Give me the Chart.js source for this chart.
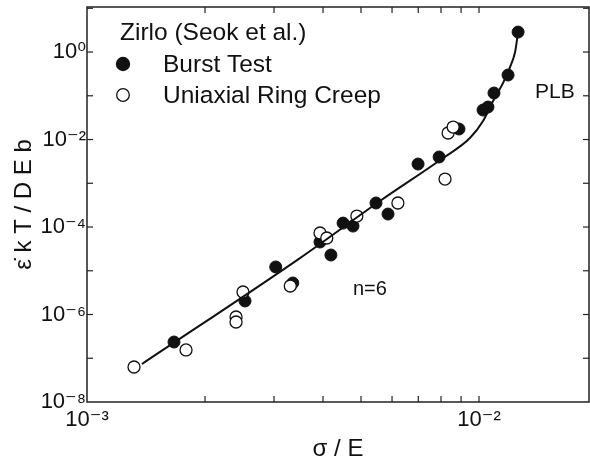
<!DOCTYPE html>
<html><head><meta charset="utf-8">
<script src="https://cdn.jsdelivr.net/npm/chart.js@4.4.0/dist/chart.umd.min.js"></script>
<style>html,body{margin:0;padding:0;background:#fff;}</style>
</head><body>
<canvas id="c" width="590" height="466"></canvas>
<script>
// ---- data ----
const burstX = [1.667e-3, 2.53e-3, 3.03e-3, 3.35e-3, 3.93e-3, 4.19e-3, 4.50e-3, 4.77e-3, 5.46e-3, 5.86e-3, 6.99e-3, 7.91e-3, 8.89e-3, 0.01024, 0.01054, 0.01092, 0.01186, 0.01258];
const burstY = [2.35e-7, 2.04e-6, 1.22e-5, 5.25e-6, 4.54e-5, 2.29e-5, 1.23e-4, 1.05e-4, 3.54e-4, 1.98e-4, 2.75e-3, 3.98e-3, 0.0174, 0.0472, 0.0553, 0.1156, 0.298, 2.86];
const ringX = [1.318e-3, 1.789e-3, 2.40e-3, 2.40e-3, 2.50e-3, 3.30e-3, 3.93e-3, 4.09e-3, 4.88e-3, 6.21e-3, 8.19e-3, 8.34e-3, 8.59e-3];
const ringY = [6.31e-8, 1.55e-7, 8.77e-7, 6.75e-7, 3.27e-6, 4.48e-6, 7.29e-5, 5.61e-5, 1.78e-4, 3.54e-4, 1.25e-3, 0.0141, 0.0193];
const fitX = [1.381e-3, 3.494e-3, 5.59e-3, 8.10e-3, 9.48e-3, 0.01024, 0.01086, 0.01151, 0.01200, 0.01236, 0.01258];
const fitY = [7.39e-8, 1.95e-5, 3.93e-4, 3.78e-3, 0.0108, 0.0265, 0.0759, 0.195, 0.454, 1.0, 2.86];
const xTickValues = [0.001, 0.002, 0.003, 0.004, 0.005, 0.006, 0.007, 0.008, 0.009, 0.01];
const xTickLabels = ['10⁻³', '', '', '', '', '', '', '', '', '10⁻²'];
const yTickValues = [1e-8, 1e-7, 1e-6, 1e-5, 1e-4, 1e-3, 1e-2, 1e-1, 1e0, 1e1];
const yTickLabels = ['10⁻⁸', '', '10⁻⁶', '', '10⁻⁴', '', '10⁻²', '', '10⁰', ''];
const seriesNames = ['Burst Test', 'Uniaxial Ring Creep'];
const legendTitle = 'Zirlo (Seok et al.)';
const noteTexts = ['PLB', 'n=6'];
const xTitle = 'σ / E';
const yTitle = 'ε̇ k T / D E b';

const FONT = "'Liberation Sans', Arial, 'DejaVu Sans', sans-serif";
const INK = '#111';
const pts = (xs, ys) => xs.map((v, i) => ({x: v, y: ys[i]}));

const frameTicks = {
  id: 'frameTicks',
  afterDraw(chart) {
    const {ctx, chartArea: a, scales: {x, y}} = chart;
    ctx.save();
    ctx.strokeStyle = '#222';
    ctx.lineWidth = 1.5;
    ctx.strokeRect(a.left, a.top, a.right - a.left, a.bottom - a.top);
    ctx.lineWidth = 1.2;
    const L = 6;
    const seg = (x1, y1, x2, y2) => { ctx.beginPath(); ctx.moveTo(x1, y1); ctx.lineTo(x2, y2); ctx.stroke(); };
    x.ticks.forEach(t => {
      const p = x.getPixelForValue(t.value);
      if (p < a.left + 1 || p > a.right - 1) return;
      seg(p, a.bottom, p, a.bottom - L);
      seg(p, a.top, p, a.top + L);
    });
    y.ticks.forEach(t => {
      const p = y.getPixelForValue(t.value);
      if (p < a.top + 1 || p > a.bottom - 1) return;
      seg(a.left, p, a.left + L, p);
      seg(a.right, p, a.right - L, p);
    });
    ctx.restore();
  }
};

const notes = {
  id: 'notes',
  afterDatasetsDraw(chart) {
    const {ctx} = chart;
    ctx.save();
    ctx.fillStyle = INK;
    ctx.textBaseline = 'alphabetic';
    ctx.textAlign = 'left';
    ctx.font = '24.5px ' + FONT;
    ctx.fillText(legendTitle, 120, 40);
    ctx.fillText(seriesNames[0], 163, 72);
    ctx.fillText(seriesNames[1], 163, 103);
    // legend markers
    ctx.beginPath(); ctx.arc(123, 64, 7.2, 0, Math.PI * 2); ctx.fillStyle = INK; ctx.fill();
    ctx.beginPath(); ctx.arc(123, 95, 6.3, 0, Math.PI * 2); ctx.fillStyle = '#fff'; ctx.fill();
    ctx.lineWidth = 1.3; ctx.strokeStyle = INK; ctx.stroke();
    ctx.fillStyle = INK;
    ctx.font = '21px ' + FONT;
    ctx.fillText(noteTexts[0], 535, 98);
    ctx.font = '20px ' + FONT;
    ctx.fillText(noteTexts[1], 353, 295);
    ctx.restore();
  }
};

new Chart(document.getElementById('c'), {
  type: 'scatter',
  data: {
    datasets: [
      {
        type: 'line', label: 'fit', data: pts(fitX, fitY),
        borderColor: INK, borderWidth: 2, pointRadius: 0, fill: false,
        cubicInterpolationMode: 'monotone', order: 0
      },
      {
        label: seriesNames[1], data: pts(ringX, ringY),
        pointRadius: 6, pointBackgroundColor: '#fff', pointBorderColor: INK, pointBorderWidth: 1.3, order: 1
      },
      {
        label: seriesNames[0], data: pts(burstX, burstY),
        pointRadius: 6, pointBackgroundColor: INK, pointBorderColor: INK, pointBorderWidth: 1, order: 2
      }
    ]
  },
  options: {
    responsive: false,
    animation: false,
    devicePixelRatio: 1,
    layout: {autoPadding: false, padding: {left: 0, right: 1, top: 7, bottom: 0}},
    plugins: {legend: {display: false}, tooltip: {enabled: false}},
    scales: {
      x: {
        type: 'logarithmic', min: 0.001, max: 0.01908,
        afterBuildTicks: s => { s.ticks = xTickValues.map(v => ({value: v})); },
        afterFit: s => { s.height = 64; s.paddingLeft = 0; s.paddingRight = 0; },
        grid: {display: false, drawTicks: false},
        border: {display: false},
        ticks: {
          autoSkip: false, maxRotation: 0, padding: 5, color: INK,
          font: {family: FONT, size: 22},
          callback: (v, i) => xTickLabels[i]
        },
        title: {display: true, text: xTitle, color: INK, font: {family: FONT, size: 24}, padding: {top: 0, bottom: 2}}
      },
      y: {
        type: 'logarithmic', min: 1e-8, max: 10.7,
        afterBuildTicks: s => { s.ticks = yTickValues.map(v => ({value: v})); },
        afterFit: s => { s.width = 87; s.paddingTop = 0; s.paddingBottom = 0; },
        grid: {display: false, drawTicks: false},
        border: {display: false},
        ticks: {
          autoSkip: false, padding: 1, color: INK,
          font: {family: FONT, size: 22},
          callback: (v, i) => yTickLabels[i]
        },
        title: {display: true, text: yTitle, color: INK, font: {family: FONT, size: 24}, padding: {top: 10, bottom: 0}}
      }
    }
  },
  plugins: [frameTicks, notes]
});
</script>
</body></html>
